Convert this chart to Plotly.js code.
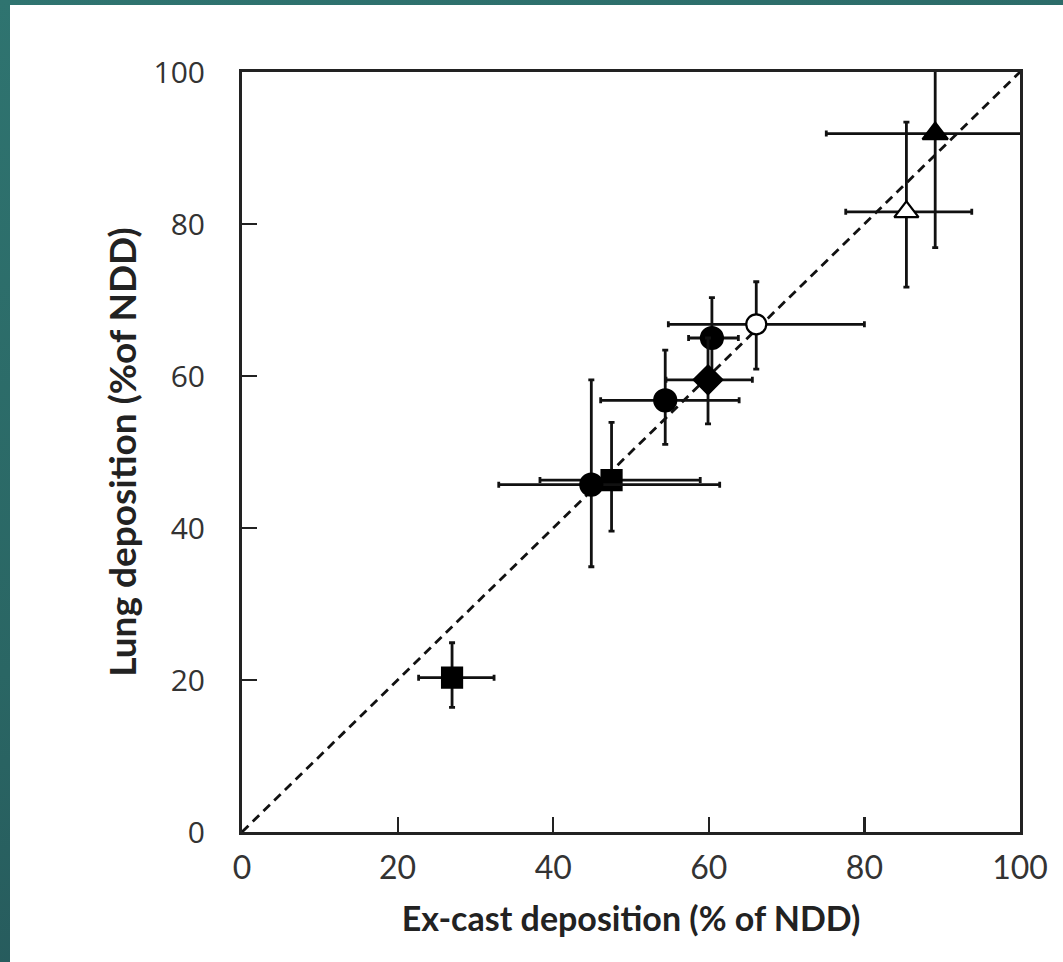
<!DOCTYPE html>
<html>
<head>
<meta charset="utf-8">
<script src="https://cdn.plot.ly/plotly-3.0.1.min.js"></script>
<style>
  html, body { margin: 0; padding: 0; }
  body {
    width: 1063px; height: 962px; overflow: hidden;
    background: linear-gradient(160deg, #2f7470 0%, #2a6664 50%, #234f55 100%);
  }
  #chart { position: absolute; left: 10px; top: 5px; width: 1053px; height: 957px; background: #fff; }
</style>
</head>
<body>
<div id="chart"></div>
<script>
// Axis ticks
const tickVals = [0, 20, 40, 60, 80, 100];
const tickText = ['0', '20', '40', '60', '80', '100'];

// Filled circles
const circleX = [44.9, 54.4, 60.4];
const circleY = [45.7, 56.8, 65.0];
const circleXPlus = [16.5, 9.5, 3.4];
const circleXMinus = [11.9, 8.3, 3.0];
const circleYPlus = [13.8, 6.6, 5.3];
const circleYMinus = [10.8, 5.8, 5.5];

// Filled squares
const squareX = [27.0, 47.5];
const squareY = [20.3, 46.3];
const squareXPlus = [5.4, 11.4];
const squareXMinus = [4.3, 9.2];
const squareYPlus = [4.6, 7.6];
const squareYMinus = [3.9, 6.7];

// Filled diamond
const diamondX = [59.9];
const diamondY = [59.5];
const diamondXPlus = [5.7];
const diamondXMinus = [5.4];
const diamondYPlus = [5.5];
const diamondYMinus = [5.8];

// Open circle
const openCircleX = [66.1];
const openCircleY = [66.8];
const openCircleXPlus = [13.9];
const openCircleXMinus = [11.3];
const openCircleYPlus = [5.6];
const openCircleYMinus = [5.9];

// Filled triangle
const triX = [89.1];
const triY = [91.9];
const triXPlus = [15.0];
const triXMinus = [14.0];
const triYPlus = [12.0];
const triYMinus = [15.0];

// Open triangle
const openTriX = [85.4];
const openTriY = [81.6];
const openTriXPlus = [8.4];
const openTriXMinus = [7.8];
const openTriYPlus = [11.8];
const openTriYMinus = [9.9];

// Identity line
const lineX = [0, 100];
const lineY = [0, 100];

function errs(xp, xm, yp, ym) {
  return {
    error_x: { type: 'data', symmetric: false, array: xp, arrayminus: xm, color: '#111', thickness: 2.8, width: 3 },
    error_y: { type: 'data', symmetric: false, array: yp, arrayminus: ym, color: '#111', thickness: 2.8, width: 3 }
  };
}
function pts(x, y, symbol, fill, size, e) {
  return Object.assign({
    x: x, y: y, type: 'scatter', mode: 'markers', showlegend: false, hoverinfo: 'x+y',
    marker: { symbol: symbol, size: size, color: fill, line: { color: '#000', width: 2.2 } }
  }, e);
}

const data = [
  { x: lineX, y: lineY, type: 'scatter', mode: 'lines', showlegend: false,
    line: { color: '#111', width: 2.8, dash: '9px,6px' } },
  pts(squareX, squareY, 'square', '#000', 20, errs(squareXPlus, squareXMinus, squareYPlus, squareYMinus)),
  pts(circleX, circleY, 'circle', '#000', 22, errs(circleXPlus, circleXMinus, circleYPlus, circleYMinus)),
  pts(diamondX, diamondY, 'diamond', '#000', 22, errs(diamondXPlus, diamondXMinus, diamondYPlus, diamondYMinus)),
  pts(openCircleX, openCircleY, 'circle', '#fff', 20, errs(openCircleXPlus, openCircleXMinus, openCircleYPlus, openCircleYMinus)),
  pts(triX, triY, 'triangle-up', '#000', 22, errs(triXPlus, triXMinus, triYPlus, triYMinus)),
  pts(openTriX, openTriY, 'triangle-up', '#fff', 21, errs(openTriXPlus, openTriXMinus, openTriYPlus, openTriYMinus))
];

const layout = {
  width: 1053, height: 957,
  margin: { l: 232, r: 43, t: 67, b: 130 },
  paper_bgcolor: '#ffffff', plot_bgcolor: '#ffffff',
  showlegend: false,
  xaxis: {
    range: [0, 100], tickvals: tickVals, ticktext: tickText,
    showgrid: false, zeroline: false,
    showline: true, mirror: true, linecolor: '#222', linewidth: 3,
    ticks: 'inside', ticklen: 15, tickwidth: 2.2, tickcolor: '#222',
    tickfont: { family: 'Lato, "Open Sans", sans-serif', size: 32, color: '#333' },
    ticklabelstandoff: 6,
    title: { text: 'Ex-cast deposition (% of NDD)', font: { family: 'Lato, "Open Sans", sans-serif', size: 34, color: '#222', weight: 'bold' }, standoff: 22 }
  },
  yaxis: {
    range: [0, 100], tickvals: tickVals, ticktext: tickText,
    showgrid: false, zeroline: false,
    showline: true, mirror: true, linecolor: '#222', linewidth: 3,
    ticks: 'inside', ticklen: 15, tickwidth: 2.2, tickcolor: '#222',
    tickfont: { family: '"Open Sans", sans-serif', size: 30, color: '#333' },
    ticklabelstandoff: 28,
    title: { text: 'Lung deposition (%of NDD)', font: { family: 'Lato, "Open Sans", sans-serif', size: 37, color: '#222', weight: 'bold' }, standoff: 6 }
  }
};

Plotly.newPlot('chart', data, layout, { displayModeBar: false, staticPlot: true });
</script>
</body>
</html>
